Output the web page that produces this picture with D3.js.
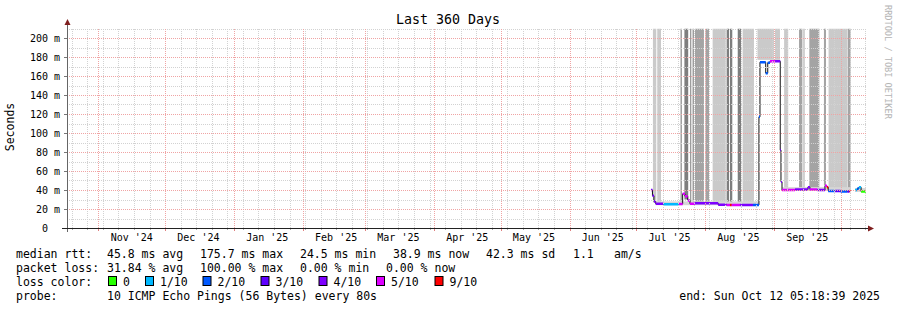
<!DOCTYPE html>
<html><head><meta charset="utf-8">
<script src="https://cdn.jsdelivr.net/npm/d3@7"></script>
<style>
html,body{margin:0;padding:0;background:#fff;}
svg{display:block;}
text{font-family:"DejaVu Sans Mono",monospace;fill:#000;}
</style></head><body>
<svg id="chart" width="897" height="310"></svg>
<script>
// ---------------- data ----------------
const title = "Last 360 Days";
const yLabel = "Seconds";
const watermark = "RRDTOOL / TOBI OETIKER";
const timeStart = "2024-10-17T21:00";
const timeEnd = "2025-10-12T21:00";
const yMax = 210;
const yTicks = [0, 20, 40, 60, 80, 100, 120, 140, 160, 180, 200];
const yTickLabels = ["0", "20 m", "40 m", "60 m", "80 m", "100 m", "120 m", "140 m", "160 m", "180 m", "200 m"];
const monthDates = ["2024-11-01","2024-12-01","2025-01-01","2025-02-01","2025-03-01","2025-04-01","2025-05-01","2025-06-01","2025-07-01","2025-08-01","2025-09-01"];
const monthLabels = ["Nov '24","Dec '24","Jan '25","Feb '25","Mar '25","Apr '25","May '25","Jun '25","Jul '25","Aug '25","Sep '25"];

const lossLevels = ["0", "1/10", "2/10", "3/10", "4/10", "5/10", "9/10"];
const lossColors = ["#26ff00", "#00b8ff", "#0059ff", "#5e00ff", "#7e00ff", "#dd00ff", "#ff0000"];
const smokeShades = ["#cacaca", "#a4a4a4", "#7e7e7e"];

// smoke columns: [start, end, lower value (ms), shade index]
const smokeCols = [
  ["2025-07-08T13:00","2025-07-10T01:00",27,0],
  ["2025-07-10T12:00","2025-07-12T04:00",27,0],
  ["2025-07-21T00:00","2025-07-21T12:00",27,2],
  ["2025-07-22T17:00","2025-07-24T10:00",30,2],
  ["2025-07-25T08:00","2025-07-25T17:00",27,2],
  ["2025-07-26T10:00","2025-07-26T22:00",27,2],
  ["2025-07-27T11:00","2025-07-31T12:00",27,1],
  ["2025-08-01T05:00","2025-08-02T19:00",27,1],
  ["2025-08-04T10:00","2025-08-10T07:00",26,0],
  ["2025-08-10T17:00","2025-08-11T19:00",26,2],
  ["2025-08-12T05:00","2025-08-13T06:00",26,2],
  ["2025-08-15T17:00","2025-08-17T05:00",26,2],
  ["2025-08-17T22:00","2025-08-23T00:00",26,0],
  ["2025-08-24T14:00","2025-09-01T00:00",177,0],
  ["2025-09-01T11:00","2025-09-03T17:00",177,0],
  ["2025-09-05T14:00","2025-09-07T10:00",42,0],
  ["2025-09-12T07:00","2025-09-13T19:00",42,1],
  ["2025-09-14T07:00","2025-09-14T17:00",42,1],
  ["2025-09-16T22:00","2025-09-21T10:00",42,1],
  ["2025-09-23T12:00","2025-09-24T10:00",45,1],
  ["2025-09-25T14:00","2025-10-04T00:00",41,0],
  ["2025-10-04T05:00","2025-10-05T12:00",41,1]
];
// low smoke near the median: [start, end, low, high]
const grassBands = [
  ["2025-07-09T19:00","2025-08-25T06:00",24,28],
  ["2025-09-04T15:00","2025-10-05T12:00",39,43],
  ["2025-10-07T12:00","2025-10-12T10:00",38,42]
];

// median rtt (ms), step-after, with loss level index
const medianTimes = [
  "2025-07-07T16:00","2025-07-08T08:00","2025-07-09T00:00","2025-07-09T19:00","2025-07-13T05:00",
  "2025-07-20T06:00","2025-07-21T22:00","2025-07-22T23:00","2025-07-24T05:00","2025-07-25T05:00",
  "2025-07-27T11:00","2025-08-06T22:00","2025-08-10T17:00","2025-08-12T05:00","2025-08-13T00:00",
  "2025-08-16T17:00","2025-08-22T13:00","2025-08-25T06:00","2025-08-25T17:00","2025-08-28T07:00",
  "2025-08-29T05:00","2025-08-30T05:00","2025-09-01T12:00","2025-09-03T20:00","2025-09-04T04:00",
  "2025-09-04T15:00","2025-09-10T12:00","2025-09-16T07:00","2025-09-17T05:00","2025-09-20T12:00",
  "2025-09-23T23:00","2025-09-24T20:00","2025-09-25T10:00","2025-09-28T12:00","2025-10-01T00:00",
  "2025-10-04T00:00","2025-10-05T00:00","2025-10-05T12:00","2025-10-07T12:00","2025-10-08T12:00",
  "2025-10-09T06:00","2025-10-10T05:00","2025-10-12T10:00"
];
const medianValues = [
  40, 34, 28, 25.5, 25,
  25.3, 36, 33.5, 29, 25.5,
  26, 24.5, 24.3, 24.3, 24.3,
  24.3, 24.3, 117, 174.5, 163,
  174, 175.5, 175.5, 82, 48.7,
  40, 40.5, 43, 40.5, 40,
  44.5, 43, 39, 39, 38.5,
  38.5, 39, null, 40, 41.5,
  43, 38.5, null
];
const medianLoss = [
  4, 4, 4, 4, 1,
  5, 5, 5, 5, 5,
  4, 4, 5, 6, 5,
  4, 2, 2, 2, 2,
  2, 5, 4, 4, 4,
  5, 4, 4, 5, 4,
  5, 6, 2, 3, 2,
  3, 6, 0, 1, 2,
  1, 0, 0
];

const legendRtt = ["median rtt:", "45.8 ms avg", "175.7 ms max", "24.5 ms min", "38.9 ms now", "42.3 ms sd", "1.1", "am/s"];
const legendLoss = ["packet loss:", "31.84 % avg", "100.00 % max", "0.00 % min", "0.00 % now"];
const legendColorTitle = "loss color:";
const legendProbe = ["probe:", "10 ICMP Echo Pings (56 Bytes) every 80s"];
const legendEnd = "end: Sun Oct 12 05:18:39 2025";

// ---------------- layout ----------------
const L = 67, R = 867, T = 28.5, B = 228;
const rttX = [16, 107, 200, 300, 393, 486, 573, 614];
const lossX = [16, 107, 200, 300, 386];
const boxX = [108.5, 145.5, 203, 261, 319, 376.5, 435];
const rowY = [258, 272, 286, 300];

const parse = d3.utcParse("%Y-%m-%dT%H:%M");
const parseDay = d3.utcParse("%Y-%m-%d");
const svg = d3.select("#chart");

const x = d3.scaleUtc().domain([parse(timeStart), parse(timeEnd)]).range([L, R]);
const y = d3.scaleLinear().domain([0, yMax]).range([B, T]);

svg.append("defs").append("clipPath").attr("id", "plot")
  .append("rect").attr("x", L).attr("y", T).attr("width", R - L).attr("height", B - T);

const plot = svg.append("g").attr("clip-path", "url(#plot)");

// smoke
plot.append("g").selectAll("rect").data(smokeCols).join("rect")
  .attr("x", d => x(parse(d[0])))
  .attr("width", d => Math.max(1, x(parse(d[1])) - x(parse(d[0]))))
  .attr("y", T)
  .attr("height", d => y(d[2]) - T)
  .attr("fill", d => smokeShades[d[3]]);
plot.append("g").selectAll("rect").data(grassBands).join("rect")
  .attr("x", d => x(parse(d[0])))
  .attr("width", d => x(parse(d[1])) - x(parse(d[0])))
  .attr("y", d => y(d[3]))
  .attr("height", d => y(d[2]) - y(d[3]))
  .attr("fill", "#d6d6d6");

// grid
const grid = svg.append("g").attr("shape-rendering", "crispEdges");
const yMinor = d3.range(10, yMax + 1, 20);
grid.selectAll(".hmin").data(yMinor).join("line")
  .attr("x1", L).attr("x2", R)
  .attr("y1", d => Math.round(y(d)) + 0.5).attr("y2", d => Math.round(y(d)) + 0.5)
  .attr("stroke", "#d2d2d2").attr("stroke-dasharray", "1,1");
const weeks = d3.utcSunday.range(parse(timeStart), parse(timeEnd));
grid.selectAll(".vmin").data(weeks).join("line")
  .attr("x1", d => Math.round(x(d)) + 0.5).attr("x2", d => Math.round(x(d)) + 0.5)
  .attr("y1", T).attr("y2", B)
  .attr("stroke", "#d2d2d2").attr("stroke-dasharray", "1,1");
grid.selectAll(".hmaj").data(yTicks.slice(1)).join("line")
  .attr("x1", L).attr("x2", R)
  .attr("y1", d => Math.round(y(d)) + 0.5).attr("y2", d => Math.round(y(d)) + 0.5)
  .attr("stroke", "#f0a4a4").attr("stroke-dasharray", "1,1");
const months = d3.utcMonth.range(parse(timeStart), parse(timeEnd));
grid.selectAll(".vmaj").data(months).join("line")
  .attr("x1", d => Math.round(x(d)) + 0.5).attr("x2", d => Math.round(x(d)) + 0.5)
  .attr("y1", T).attr("y2", B)
  .attr("stroke", "#f0a4a4").attr("stroke-dasharray", "1,1");

// median line: black step line + coloured horizontal segments by loss
const pts = medianTimes.map((t, i) => ({t: parse(t), v: medianValues[i], l: medianLoss[i]}));
const stepLine = d3.line().defined(d => d.v != null)
  .x(d => x(d.t)).y(d => y(d.v)).curve(d3.curveStepAfter);
plot.append("path").datum(pts).attr("d", stepLine)
  .attr("fill", "none").attr("stroke", "#111").attr("stroke-width", 1);
const segs = pts.slice(0, -1).map((d, i) => ({x0: d.t, x1: pts[i + 1].t, v: d.v, l: d.l})).filter(d => d.v != null);
plot.append("g").selectAll("line").data(segs).join("line")
  .attr("x1", d => x(d.x0)).attr("x2", d => x(d.x1))
  .attr("y1", d => y(d.v)).attr("y2", d => y(d.v))
  .attr("stroke", d => lossColors[d.l]).attr("stroke-width", 2.5);

// axes
const ax = svg.append("g").attr("shape-rendering", "crispEdges");
ax.selectAll(".yt").data(yTicks).join("line")
  .attr("x1", L - 3).attr("x2", L)
  .attr("y1", d => Math.round(y(d)) + 0.5).attr("y2", d => Math.round(y(d)) + 0.5)
  .attr("stroke", "#777");
ax.selectAll(".xtw").data(weeks).join("line")
  .attr("x1", d => Math.round(x(d)) + 0.5).attr("x2", d => Math.round(x(d)) + 0.5)
  .attr("y1", B).attr("y2", B + 2).attr("stroke", "#aaa");
ax.selectAll(".xtm").data(months).join("line")
  .attr("x1", d => Math.round(x(d)) + 0.5).attr("x2", d => Math.round(x(d)) + 0.5)
  .attr("y1", B).attr("y2", B + 3).attr("stroke", "#e08080");
ax.append("line").attr("x1", L + 0.5).attr("x2", L + 0.5).attr("y1", B + 4).attr("y2", 22).attr("stroke", "#666");
ax.append("line").attr("x1", L - 5).attr("x2", 869).attr("y1", B + 0.5).attr("y2", B + 0.5).attr("stroke", "#222");
svg.append("path").attr("d", `M${L + 0.5},19 L${L + 3.5},25 L${L - 2.5},25 Z`).attr("fill", "#7f1f1f");
svg.append("path").attr("d", `M874,${B + 0.5} L868,${B - 2.5} L868,${B + 3.5} Z`).attr("fill", "#7f1f1f");

// y tick labels
svg.append("g").selectAll("text").data(yTicks).join("text")
  .attr("x", 60).attr("y", d => y(d) + 3.5)
  .attr("text-anchor", "end").attr("font-size", 10)
  .style("white-space", "pre")
  .text((d, i) => yTickLabels[i].includes(" ") ? yTickLabels[i] : yTickLabels[i] + "\u00a0\u00a0");

// x labels centred mid-month (month start + 15 days)
svg.append("g").selectAll("text").data(monthDates).join("text")
  .attr("x", d => x(d3.utcDay.offset(parseDay(d), 15)))
  .attr("y", 241).attr("text-anchor", "middle").attr("font-size", 10)
  .text((d, i) => monthLabels[i]);

// title, y label, watermark
svg.append("text").attr("x", 448).attr("y", 24).attr("text-anchor", "middle")
  .attr("font-size", 13.3).text(title);
svg.append("text").attr("transform", "translate(14,127) rotate(-90)")
  .attr("text-anchor", "middle").attr("font-size", 11.5).text(yLabel);
svg.append("text").attr("transform", "translate(884.5,5) rotate(90)")
  .attr("font-size", 8.6).style("fill", "#b4b4b4").text(watermark);

// legend
const lg = svg.append("g").attr("font-size", 11.5);
legendRtt.forEach((s, i) => lg.append("text").attr("x", rttX[i]).attr("y", rowY[0]).text(s));
legendLoss.forEach((s, i) => lg.append("text").attr("x", lossX[i]).attr("y", rowY[1]).text(s));
lg.append("text").attr("x", 16).attr("y", rowY[2]).text(legendColorTitle);
lossLevels.forEach((s, i) => {
  lg.append("rect").attr("x", boxX[i]).attr("y", rowY[2] - 9.5).attr("width", 8).attr("height", 9)
    .attr("fill", lossColors[i]).attr("stroke", "#000").attr("stroke-width", 1);
  lg.append("text").attr("x", boxX[i] + 14.5).attr("y", rowY[2]).text(s);
});
lg.append("text").attr("x", 16).attr("y", rowY[3]).text(legendProbe[0]);
lg.append("text").attr("x", 107).attr("y", rowY[3]).text(legendProbe[1]);
lg.append("text").attr("x", 880).attr("y", rowY[3]).attr("text-anchor", "end").text(legendEnd);
</script>
</body></html>
